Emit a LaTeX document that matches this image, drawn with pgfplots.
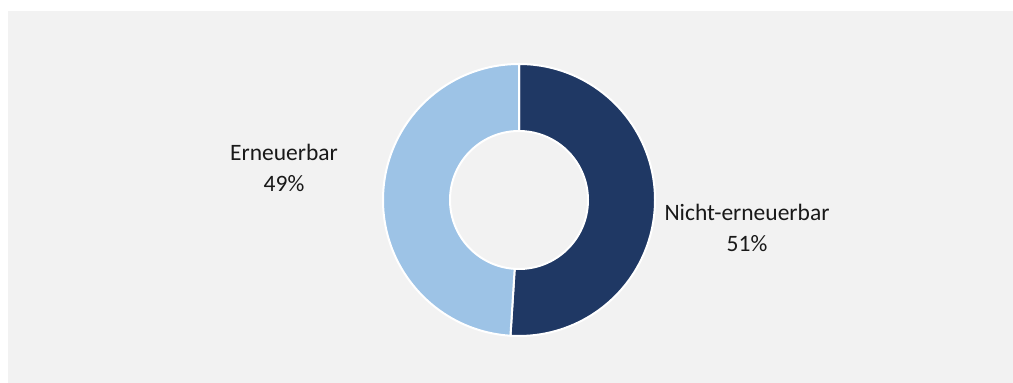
\documentclass[border=0pt]{standalone}
\usepackage{pgfplots}
\pgfplotsset{compat=1.18}
\usepackage{pgfplotstable}
\usepackage{fontspec}
\setmainfont{Carlito}
\definecolor{navy}{HTML}{1F3864}
\definecolor{lblue}{HTML}{9DC3E6}
\definecolor{bg}{HTML}{F2F2F2}
\pgfplotstableread{
label value
Nicht-erneuerbar 51
Erneuerbar 49
}\shares
\begin{document}
\begin{tikzpicture}
\pgfplotstablegetelem{0}{value}\of\shares\let\valA\pgfplotsretval
\pgfplotstablegetelem{1}{value}\of\shares\let\valB\pgfplotsretval
\pgfmathsetmacro{\total}{\valA+\valB}
\pgfmathsetmacro{\endA}{90-3.6*(100*\valA/\total)}
\pgfmathsetmacro{\endB}{\endA-3.6*(100*\valB/\total)}
\begin{axis}[
  at={(0,0)}, anchor=south west,
  scale only axis, width=1013pt, height=383pt,
  xmin=0, xmax=1013, ymin=0, ymax=383,
  hide axis, clip=false]
\path[fill=white] (axis cs:0,0) rectangle (axis cs:1013,383);
\fill[bg] (axis cs:8,0) rectangle (axis cs:1013,372);
\begin{scope}[shift={(axis cs:519,183)}]
\fill[navy, draw=white, line width=2pt, line join=miter]
  (90:136) arc[start angle=90, end angle=\endA, radius=136]
  -- (\endA:69) arc[start angle=\endA, end angle=90, radius=69] -- cycle;
\fill[lblue, draw=white, line width=2pt, line join=miter]
  (\endA:136) arc[start angle=\endA, end angle=\endB, radius=136]
  -- (\endB:69) arc[start angle=\endB, end angle=\endA, radius=69] -- cycle;
\end{scope}
\node[align=center, font=\fontsize{23.5}{31}\selectfont, text=black!90]
  at (axis cs:284,215) {Erneuerbar\\\valB\%};
\node[align=center, font=\fontsize{23.5}{31}\selectfont, text=black!90]
  at (axis cs:747,155.5) {Nicht-erneuerbar\\\valA\%};
\end{axis}
\end{tikzpicture}
\end{document}
